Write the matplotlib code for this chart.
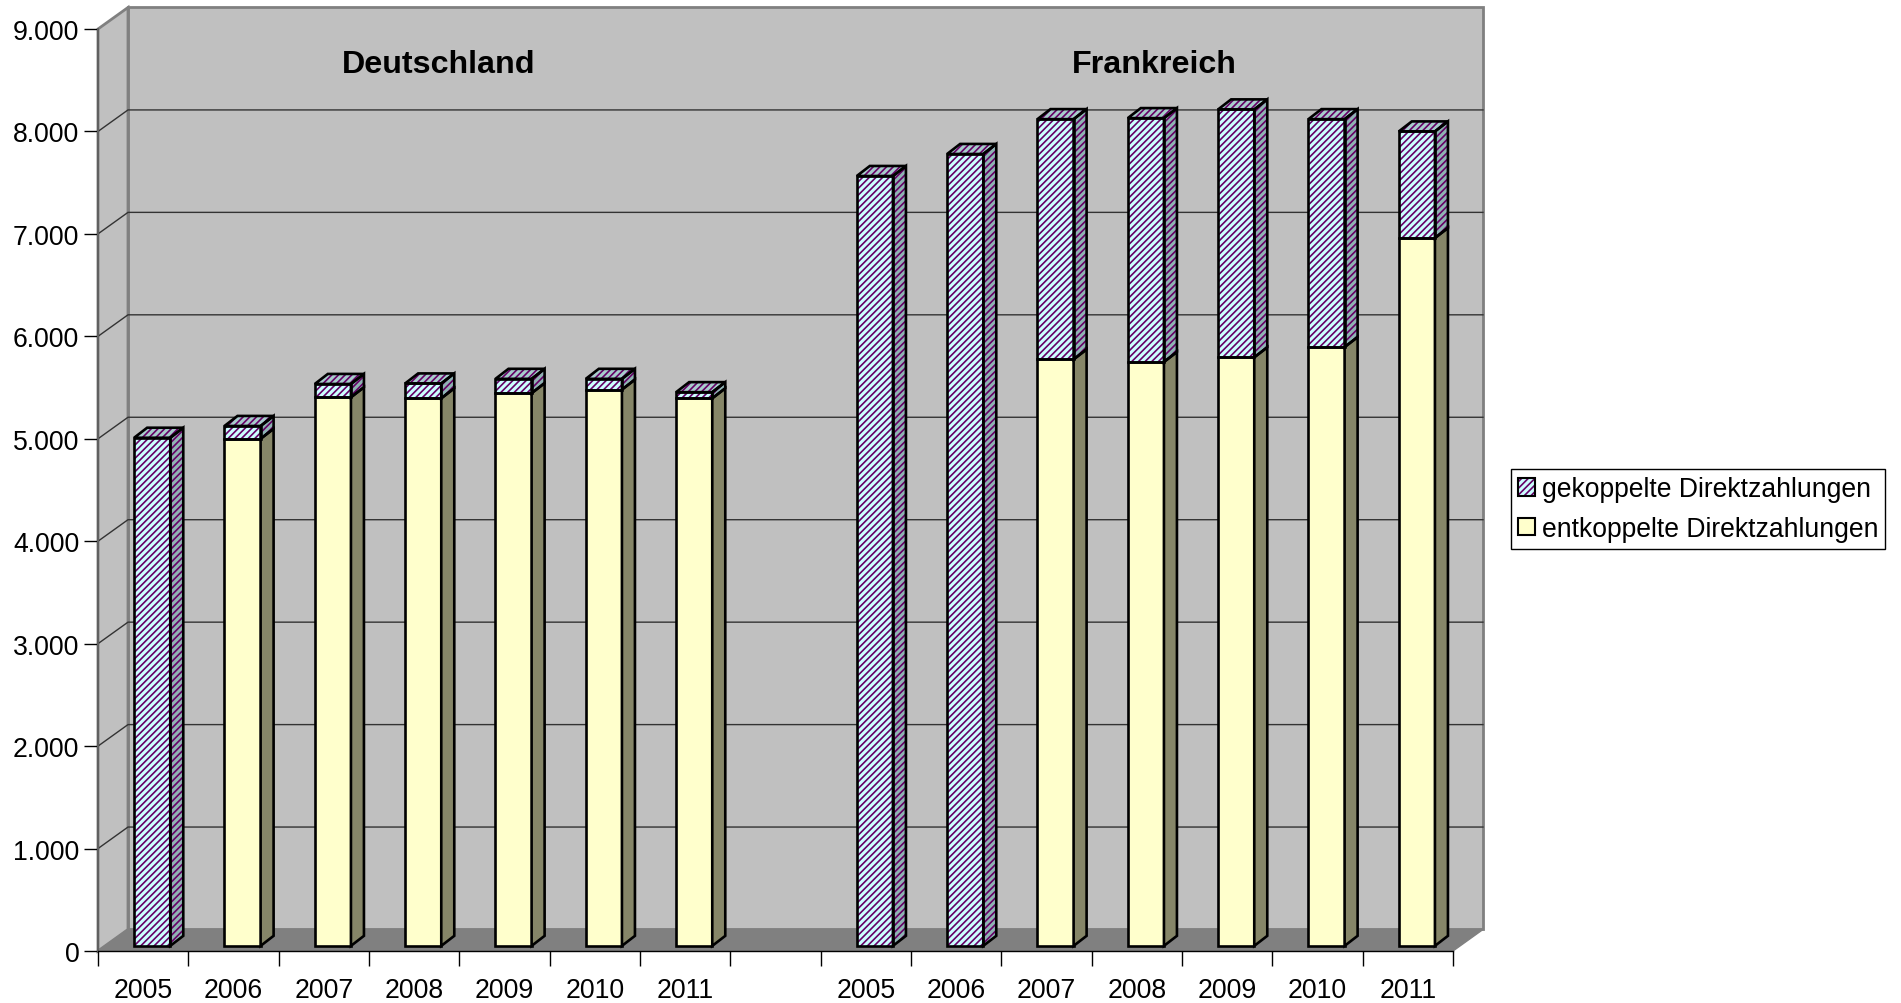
import matplotlib
matplotlib.use("Agg")
import matplotlib.pyplot as plt
from matplotlib.legend_handler import HandlerTuple
from matplotlib.patches import Patch, Polygon

years = ["2005", "2006", "2007", "2008", "2009", "2010", "2011"]
entkoppelt_de = [0, 4950, 5355, 5345, 5395, 5430, 5345]
gekoppelt_de = [4960, 125, 130, 145, 140, 105, 60]
entkoppelt_fr = [0, 0, 5725, 5700, 5745, 5845, 6910]
gekoppelt_fr = [7515, 7730, 2345, 2380, 2420, 2225, 1040]
y_ticks = [0, 1000, 2000, 3000, 4000, 5000, 6000, 7000, 8000, 9000]

# one blank category between the two countries
labels = years + [""] + years
entkoppelt = entkoppelt_de + [None] + entkoppelt_fr
gekoppelt = gekoppelt_de + [None] + gekoppelt_fr

plt.rcParams["font.family"] = ["Liberation Sans", "DejaVu Sans"]
plt.rcParams["hatch.linewidth"] = 1.2

W, H = 1901, 1004
fig = plt.figure(figsize=(W / 100, H / 100), dpi=100)
ax = fig.add_axes([98 / W, (H - 952) / H, 1355 / W, 922 / H])
ax.set_xlim(0, 15)
ax.set_ylim(0, 9000)
ax.patch.set_alpha(0)

# fake 3d: depth of the chart box and of the bars, in data units
DX, DY = 0.332, 210
GAP_X, GAP_Y = 0.10, 50
BAR_DX, BAR_DY = 0.144, 98
BAR_W = 0.40


def poly(points, **kw):
    p = Polygon(points, closed=True, clip_on=False, joinstyle="miter", **kw)
    ax.add_patch(p)


# walls and floor
poly([(DX, DY), (15 + DX, DY), (15 + DX, 9000 + DY), (DX, 9000 + DY)],
     facecolor="#C0C0C0", edgecolor="#808080", lw=2, zorder=1)
poly([(0, 0), (DX, DY), (DX, 9000 + DY), (0, 9000)],
     facecolor="#C0C0C0", edgecolor="#808080", lw=2, zorder=1)
poly([(0, 0), (15, 0), (15 + DX, DY), (DX, DY)],
     facecolor="#808080", edgecolor="#808080", lw=1, zorder=2)

for v in y_ticks[1:-1]:
    ax.plot([0, DX, 15 + DX], [v, v + DY, v + DY], color="#333333", lw=1,
            clip_on=False, zorder=2)


def bar3d(i, bottom, height, front, side, top, hatch=None, hatch_col="black"):
    x0 = i + 0.5 - BAR_W / 2 + GAP_X
    x1 = x0 + BAR_W
    y0 = bottom + GAP_Y
    y1 = y0 + height
    style = dict(edgecolor="black", lw=1.9, zorder=4)
    if hatch:
        # hatch follows the edge colour, so fill first and outline on top
        for col, pts in [(front, [(x0, y0), (x1, y0), (x1, y1), (x0, y1)]),
                         (side, [(x1, y0), (x1 + BAR_DX, y0 + BAR_DY),
                                 (x1 + BAR_DX, y1 + BAR_DY), (x1, y1)]),
                         (top, [(x0, y1), (x1, y1), (x1 + BAR_DX, y1 + BAR_DY),
                                (x0 + BAR_DX, y1 + BAR_DY)])]:
            poly(pts, facecolor=col, edgecolor=hatch_col, hatch=hatch, lw=0, zorder=3)
            poly(pts, fill=False, **style)
    else:
        poly([(x0, y0), (x1, y0), (x1, y1), (x0, y1)], facecolor=front, **style)
        poly([(x1, y0), (x1 + BAR_DX, y0 + BAR_DY), (x1 + BAR_DX, y1 + BAR_DY), (x1, y1)],
             facecolor=side, **style)


for i in range(len(labels)):
    if entkoppelt[i] is None:
        continue
    if entkoppelt[i] > 0:
        bar3d(i, 0, entkoppelt[i], "#FFFFCC", "#868668", None)
    bar3d(i, entkoppelt[i], gekoppelt[i], "#CCFFFF", "#8FB3B3", "#A8CCCC",
          hatch="/////", hatch_col="#660066")

# axes
for name in ["top", "right"]:
    ax.spines[name].set_visible(False)
ax.spines["left"].set_color("#606060")
ax.spines["left"].set_linewidth(1.5)
ax.spines["bottom"].set_color("black")
ax.spines["bottom"].set_linewidth(1)
ax.spines["left"].set_zorder(5)
ax.spines["bottom"].set_zorder(5)

ax.set_yticks(y_ticks)
ax.set_yticklabels([f"{v:,}".replace(",", ".") for v in y_ticks])
ax.tick_params(axis="y", length=10, width=1, pad=3.5, labelsize=19.2, colors="black")

ax.set_xticks(range(16))
ax.set_xticklabels([])
ax.set_xticks([i + 0.5 for i in range(15)], labels=labels, minor=True)
ax.tick_params(axis="x", which="major", length=11, width=1, colors="black")
ax.tick_params(axis="x", which="minor", length=0, pad=19, labelsize=19.2)
xticks = ax.xaxis.get_major_ticks()
xticks[0].tick1line.set_color("#606060")
xticks[-1].tick1line.set_color("#808080")

# country headings
fig.text(439 / W, 1 - 65 / H, "Deutschland", fontsize=23.2, fontweight="bold",
         ha="center", va="center")
fig.text(1154 / W, 1 - 65 / H, "Frankreich", fontsize=23.2, fontweight="bold",
         ha="center", va="center")

handles = [
    (Patch(facecolor="#CCFFFF", edgecolor="#660066", hatch="/////", lw=0),
     Patch(fill=False, edgecolor="black", lw=1.5)),
    Patch(facecolor="#FFFFCC", edgecolor="black", lw=1.5),
]
leg = fig.legend(handles, ["gekoppelte Direktzahlungen", "entkoppelte Direktzahlungen"],
                 handler_map={tuple: HandlerTuple(ndivide=1, pad=0)},
                 loc="center left", bbox_to_anchor=(1511 / W, 1 - 510 / H),
                 fontsize=19.1, frameon=True, fancybox=False, framealpha=1,
                 edgecolor="black", handlelength=0.65, handleheight=0.65,
                 handletextpad=0.25, labelspacing=0.52, borderpad=0.25, borderaxespad=0)
leg.get_frame().set_linewidth(1)

fig.savefig("out.png", dpi=100)
